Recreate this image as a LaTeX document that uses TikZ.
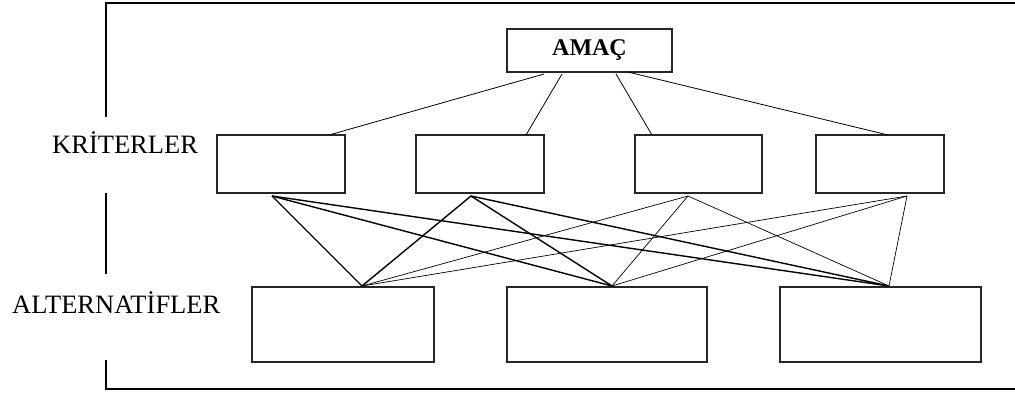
\documentclass[tikz,border=0pt]{standalone}
\usepackage{fontspec}
\setmainfont{Liberation Serif}
\begin{document}
\begin{tikzpicture}[x=1pt,y=-1pt,
  box/.style={draw=black!85,line width=1.1pt,inner sep=0pt},
  lbl/.style={anchor=west,inner sep=0pt,font=\fontsize{26.5}{30}\selectfont},
  frame/.style={line width=2.6pt},
  thick link/.style={line width=1.4pt},
  thin link/.style={line width=0.7pt},
  top link/.style={line width=0.8pt}]
\useasboundingbox (0,0) rectangle (1015,392);
% frame
\draw[frame] (106,117) -- (106,3) -- (1016,3);
\draw[frame] (106,193) -- (106,274);
\draw[frame] (106,360) -- (106,389) -- (1016,389);
% labels
\node[lbl] (klbl) at (52,143) {KRİTERLER};
\node[lbl] (albl) at (12,303) {ALTERNATİFLER};
% goal
\node[box,minimum width=165pt,minimum height=43pt,font=\fontsize{24}{27}\selectfont\bfseries] (amac) at (589.5,50.5) {AMAÇ};
% criteria
\node[box,minimum width=128pt,minimum height=58pt] (c1) at (281,164) {};
\node[box,minimum width=128pt,minimum height=58pt] (c2) at (480,164) {};
\node[box,minimum width=127pt,minimum height=58pt] (c3) at (698.5,164) {};
\node[box,minimum width=128pt,minimum height=58pt] (c4) at (880,164) {};
% alternatives
\node[box,minimum width=182pt,minimum height=75pt] (a1) at (343,324.5) {};
\node[box,minimum width=200pt,minimum height=75pt] (a2) at (607,324.5) {};
\node[box,minimum width=201pt,minimum height=75pt] (a3) at (880.5,324.5) {};
% connection points
\coordinate (g1) at (544,74);
\coordinate (g2) at (562,74);
\coordinate (g3) at (616,74);
\coordinate (g4) at (628,72);
\coordinate (t1) at (329,135);
\coordinate (t2) at (526,135);
\coordinate (t3) at (652,135);
\coordinate (t4) at (888,135);
\coordinate (b1) at (272,196);
\coordinate (b2) at (471,196);
\coordinate (b3) at (688,196);
\coordinate (b4) at (907,196);
\coordinate (p1) at (362,286);
\coordinate (p2) at (612,286);
\coordinate (p3) at (889,286);
% goal links
\draw[top link] (g1) -- (t1);
\draw[top link] (g2) -- (t2);
\draw[top link] (g3) -- (t3);
\draw[top link] (g4) -- (t4);
% criteria - alternative links
\draw[thick link] (b1) -- (p1);
\draw[thick link] (b1) -- (p2);
\draw[thick link] (b1) -- (p3);
\draw[thick link] (b2) -- (p1);
\draw[thick link] (b2) -- (p2);
\draw[thick link] (b2) -- (p3);
\draw[thin link] (b3) -- (p1);
\draw[thin link] (b3) -- (p2);
\draw[thin link] (b3) -- (p3);
\draw[thin link] (b4) -- (p1);
\draw[thin link] (b4) -- (p2);
\draw[thin link] (b4) -- (p3);
\end{tikzpicture}
\end{document}
